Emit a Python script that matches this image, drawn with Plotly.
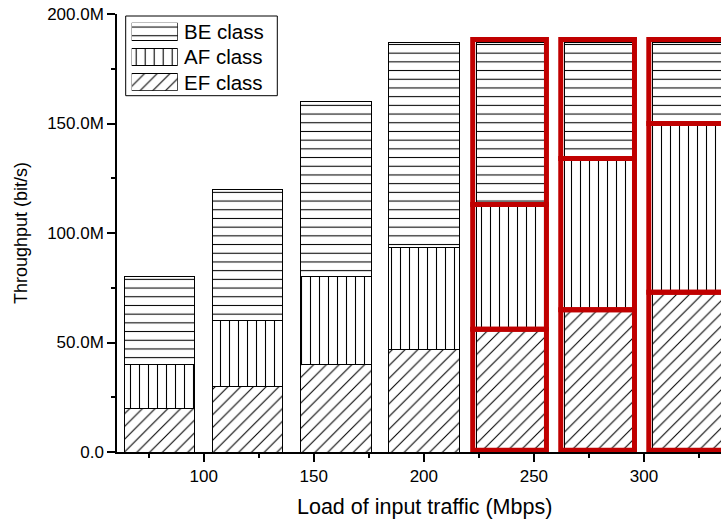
import plotly.graph_objects as go

# ---- data (Mbit/s) ----
loads = [80, 120, 160, 200, 240, 280, 320]
ef_class = [20, 30, 40, 46.8, 56, 65, 73]
af_class = [20, 30, 40, 46.7, 57, 69, 77]
be_class = [40, 60, 80, 93.6, 74, 53, 37]
highlighted = [240, 280, 320]

class_names = ["EF class", "AF class", "BE class"]
class_patterns = ["/", "|", "-"]

y_tickvals = [0, 50, 100, 150, 200]
y_ticktext = ["0.0", "50.0M", "100.0M", "150.0M", "200.0M"]
x_tickvals = [100, 150, 200, 250, 300]
x_title = "Load of input traffic (Mbps)"
y_title = "Throughput (bit/s)"

FONT = "Liberation Sans, Arial, sans-serif"
BAR_W = 32
PAT_SIZE = {"/": 9, "|": 9, "-": 8.7}
X_RANGE = [60.6, 335]

PLOT_L, PLOT_T, PLOT_W, PLOT_H = 117, 14, 604, 438   # plot area in page pixels


def px_x(x):
    return (x - PLOT_L) / PLOT_W


def px_y(y):
    return 1 - (y - PLOT_T) / PLOT_H


def pattern(shape):
    return dict(shape=shape, fgcolor="black", bgcolor="white",
                size=PAT_SIZE[shape], solidity=0.12, fillmode="replace")


fig = go.Figure()
for name, vals, shape in zip(class_names, [ef_class, af_class, be_class], class_patterns):
    fig.add_trace(go.Bar(
        x=loads, y=vals, name=name, width=BAR_W, showlegend=False,
        marker=dict(color="white", line=dict(color="black", width=1),
                    pattern=pattern(shape)),
    ))

# legend drawn as a small inset: one patterned swatch per class
SW_TOP, SW_BOT = 22.7, 90.7
row_h = (SW_BOT - SW_TOP) / 2.684
for k, (name, shape) in enumerate(zip(class_names, class_patterns)):
    fig.add_trace(go.Bar(
        x=[1], y=[k], base=0, orientation="h", width=0.684,
        xaxis="x2", yaxis="y2", showlegend=False, hoverinfo="skip",
        marker=dict(color="white", line=dict(color="black", width=1),
                    pattern=pattern(shape)),
    ))
    yc = SW_BOT - (k + 0.342) * row_h
    fig.add_annotation(xref="paper", yref="paper", x=px_x(182), y=px_y(yc), text=name,
                       showarrow=False, xanchor="left", yanchor="middle",
                       font=dict(family=FONT, size=20.5, color="black"))
fig.add_shape(type="rect", xref="paper", yref="paper",
              x0=px_x(125.7), x1=px_x(277.3), y0=px_y(95.7), y1=px_y(16),
              line=dict(color="black", width=1), fillcolor="white", layer="below")

# x axis title (the reference's plot area runs past the right edge, so centre it manually)
fig.add_annotation(xref="paper", yref="paper", x=px_x(424.5), y=px_y(506.7),
                   text=x_title, showarrow=False, xanchor="center", yanchor="middle",
                   font=dict(family=FONT, size=21.5, color="black"))

# red highlight outlines around each segment of the saturated bars
RED = "#C00000"
for i, x in enumerate(loads):
    if x not in highlighted:
        continue
    x0 = x - BAR_W / 2 - 1.8
    x1 = x + BAR_W / 2 - 0.3
    if x1 > X_RANGE[1] - 2:      # box continues past the cropped right edge
        x1 = X_RANGE[1] + 6
    b0 = 0
    for vals in (ef_class, af_class, be_class):
        b1 = b0 + vals[i]
        fig.add_shape(type="rect", xref="x", yref="y", x0=x0, x1=x1,
                      y0=max(b0, 0.8), y1=b1 + (1.4 if vals is be_class else 0),
                      line=dict(color=RED, width=5), layer="above")
        b0 = b1

fig.update_layout(
    width=721, height=522,
    margin=dict(l=PLOT_L, r=0, t=PLOT_T, b=522 - PLOT_T - PLOT_H, pad=0),
    paper_bgcolor="white", plot_bgcolor="rgba(0,0,0,0)",
    barmode="stack",
    font=dict(family=FONT, size=17, color="black"),
    showlegend=False,
    xaxis=dict(range=X_RANGE, tickvals=x_tickvals, showgrid=False,
               zeroline=False, showline=True, linecolor="black", linewidth=1.5,
               ticks="outside", ticklen=8, tickwidth=1.5, tickcolor="black",
               minor=dict(ticks="outside", ticklen=4, dtick=25, tick0=0,
                          tickcolor="black", tickwidth=1.5),
               tickfont=dict(size=17), automargin=False, ticklabeloverflow="allow"),
    yaxis=dict(range=[0, 200], tickvals=y_tickvals, ticktext=y_ticktext,
               showgrid=False, zeroline=False, showline=True, linecolor="black",
               linewidth=1.5, ticks="outside", ticklen=8, tickwidth=1.5,
               tickcolor="black",
               minor=dict(ticks="outside", ticklen=4, dtick=25, tick0=0,
                          tickcolor="black", tickwidth=1.5),
               tickfont=dict(size=17), automargin=False, ticklabeloverflow="allow",
               title=dict(text=y_title, font=dict(size=18), standoff=15)),
    xaxis2=dict(domain=[px_x(131.7), px_x(177.7)], range=[0, 1],
                visible=False, fixedrange=True),
    yaxis2=dict(domain=[px_y(SW_BOT), px_y(SW_TOP)],
                range=[-0.342, 2.342], anchor="x2", visible=False, fixedrange=True),
)

# remove the browser's default 8px body margin so the figure fills the window exactly
fig.write_html("out.html", config={"displayModeBar": False},
               post_script="document.body.style.margin='0px';"
                           "document.body.style.overflow='hidden';")
